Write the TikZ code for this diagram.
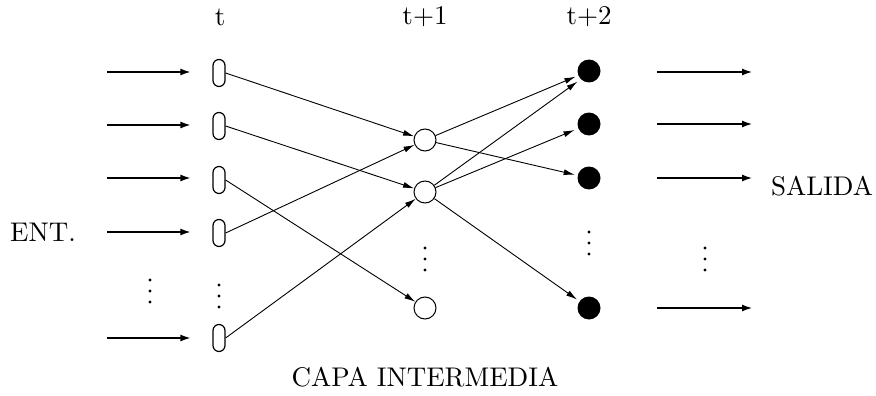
\documentclass[tikz,border=0pt]{standalone}
\usepackage{fontspec}
\setmainfont{lmroman10-regular}[Extension=.otf]
\usetikzlibrary{arrows.meta}
\begin{document}
\begin{tikzpicture}[x=1pt,y=-1pt,
  font=\fontsize{27}{32}\selectfont,
  inbox/.style={draw, line width=1.2pt, rounded corners=6pt, minimum width=12pt,
                minimum height=27pt, inner sep=0pt},
  hid/.style={draw, circle, line width=1pt, minimum size=22pt, inner sep=0pt},
  outn/.style={fill, circle, minimum size=23pt, inner sep=0pt},
  bigarrow/.style={line width=2.4pt, -{Latex[length=11pt,width=7pt]}},
  link/.style={line width=0.9pt, -{Latex[length=11pt,width=6pt]}},
  vdotsmark/.pic={\foreach \dy in {-11,0,11} \fill (0,\dy) circle (1.6pt);}]
\useasboundingbox (0,0) rectangle (876,396);

% column headings
\node (lt)  at (220,17) {t};
\node (lt1) at (425,17) {t+1};
\node (lt2) at (589,17) {t+2};

% input units
\node[inbox] (i1) at (219,73)  {};
\node[inbox] (i2) at (219,126) {};
\node[inbox] (i3) at (219,180) {};
\node[inbox] (i4) at (219,233) {};
\node[inbox] (i6) at (219,338) {};
\pic at (219,296) {vdotsmark};

% hidden units
\node[hid] (h1) at (425,140) {};
\node[hid] (h2) at (425,192) {};
\node[hid] (h3) at (425,308) {};
\pic at (425,259) {vdotsmark};

% output units
\node[outn] (o1) at (589,71)  {};
\node[outn] (o2) at (589,124) {};
\node[outn] (o3) at (589,178) {};
\node[outn] (o4) at (589,308) {};
\pic at (589,243) {vdotsmark};

% incoming arrows
\coordinate (e1) at (107,72);
\coordinate (e2) at (107,125);
\coordinate (e3) at (107,178);
\coordinate (e4) at (107,232);
\coordinate (e6) at (107,338);
\foreach \k in {1,2,3,4,6}
  \draw[bigarrow, shorten >=21pt] (e\k) -- (i\k.west |- e\k);
\pic at (150,291) {vdotsmark};
\node (ent) at (43,232) {ENT.};

% outgoing arrows
\coordinate (s1a) at (657,72);  \coordinate (s1b) at (753,72);
\coordinate (s2a) at (657,124); \coordinate (s2b) at (753,124);
\coordinate (s3a) at (657,178); \coordinate (s3b) at (753,178);
\coordinate (s4a) at (657,308); \coordinate (s4b) at (753,308);
\foreach \k in {1,2,3,4}
  \draw[bigarrow] (s\k a) -- (s\k b);
\pic at (705,259) {vdotsmark};
\node (sal) at (822,186) {SALIDA};

% input to hidden connections
\draw[link] (i1.east) -- (h1);
\draw[link] (i2.east) -- (h2);
\draw[link] (i3.east) -- (h3);
\draw[link] (i4.east) -- (h1);
\draw[link] (i6.east) -- (h2);

% hidden to output connections
\draw[link, shorten >=3pt] (h1) -- (o1);
\draw[link, shorten >=3pt] (h1) -- (o3);
\draw[link, shorten >=4pt] (h2) -- (o1.south west);
\draw[link, shorten >=4pt] (h2) -- (o2);
\draw[link, shorten >=3pt] (h2) -- (o4);

\node (capa) at (425,377) {CAPA INTERMEDIA};
\end{tikzpicture}
\end{document}
